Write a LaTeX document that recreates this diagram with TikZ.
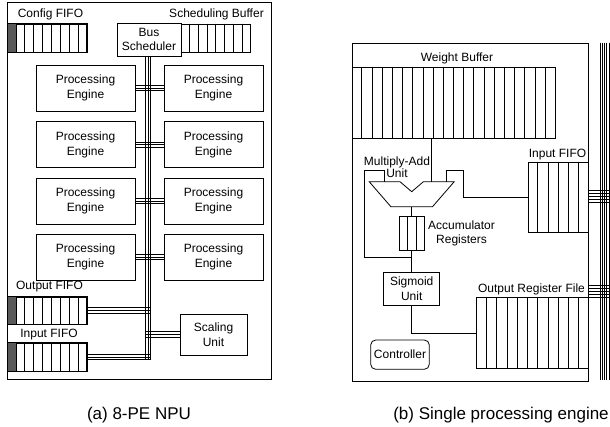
\documentclass[tikz,border=0pt]{standalone}
\usepackage{fontspec}
\setmainfont{Liberation Sans}
\usetikzlibrary{calc}
\definecolor{cellgray}{RGB}{90,90,90}
\newcommand\drawcells[3]{%
  \foreach \k in {1,...,#2}
    \draw ($(#1.north west)!\k/#3!(#1.north east)$) -- ($(#1.south west)!\k/#3!(#1.south east)$);}
\tikzset{
  every node/.style={font=\fontsize{12}{14.5}\selectfont},
  box/.style={draw, inner sep=0pt, align=center},
  pe/.style={box, minimum width=99pt, minimum height=46pt},
  lbl/.style={inner sep=0pt, align=center},
  captext/.style={inner sep=0pt, font=\fontsize{17}{20}\selectfont},
}
\begin{document}
\begin{tikzpicture}[x=1pt,y=-1pt,line width=0.8pt]
\useasboundingbox (0,0) rectangle (610,427);

% ---------------- (a) ----------------
\node[box, minimum width=263.5pt, minimum height=377pt] (frameA) at (139.25,190.5) {};

\node[lbl] (cfgl) at (50.5,14.5) {Config FIFO};
\node[box, minimum width=79.2pt, minimum height=28pt] (cfg) at (47.1,38) {};
\fill[cellgray] (cfg.north west) rectangle ($(cfg.south west)!1/9!(cfg.south east)$);
\drawcells{cfg}{8}{9}
\draw (cfg.north west) rectangle (cfg.south east);

\node[box, minimum width=64pt, minimum height=33pt] (bs) at (149,39.5) {Bus\\Scheduler};
\node[lbl] (sbl) at (216.5,14.5) {Scheduling Buffer};
\node[box, minimum width=69.7pt, minimum height=28pt] (sb) at (215.85,38) {};
\drawcells{sb}{7}{8}

\foreach \r/\y in {1/88,2/144.7,3/201,4/257}{
  \node[pe] (peL\r) at (85.5,\y) {Processing\\Engine};
  \node[pe] (peR\r) at (213.5,\y) {Processing\\Engine};
}

\node[lbl] (ofl) at (49.5,287) {Output FIFO};
\node[box, minimum width=79.2pt, minimum height=27pt] (ofa) at (47.1,310.5) {};
\fill[cellgray] (ofa.north west) rectangle ($(ofa.south west)!1/9!(ofa.south east)$);
\drawcells{ofa}{8}{9}
\draw (ofa.north west) rectangle (ofa.south east);

\node[lbl] (ifl) at (49,335) {Input FIFO};
\node[box, minimum width=79.2pt, minimum height=28pt] (ifa) at (47.1,357) {};
\fill[cellgray] (ifa.north west) rectangle ($(ifa.south west)!1/9!(ifa.south east)$);
\drawcells{ifa}{8}{9}
\draw (ifa.north west) rectangle (ifa.south east);

\node[box, minimum width=67pt, minimum height=41pt] (scal) at (213.5,334.5) {Scaling\\Unit};

% bus
\coordinate (busT) at (148,56);
\coordinate (busB) at (148,359.7);
\coordinate (busRt) at (150.7,0);
\coordinate (busLt) at (145.3,0);
\foreach \d in {-2.7,0,2.7}{
  \draw ([xshift=\d pt]busT) -- ([xshift=\d pt]busB);
  \foreach \r in {1,2,3,4}
    \draw ([yshift=\d pt]peL\r.east) -- ([yshift=\d pt]peR\r.west);
  \draw ([yshift=\d pt]ofa.east) -- ([yshift=\d pt]ofa.east -| busRt);
  \draw ([yshift=\d pt]ifa.east) -- ([yshift=\d pt]ifa.east -| busRt);
  \draw ([yshift=\d pt]scal.west -| busLt) -- ([yshift=\d pt]scal.west);
}

\node[captext] (capA) at (139,415) {(a) 8-PE NPU};

% ---------------- (b) ----------------
\node[box, minimum width=236.7pt, minimum height=338pt] (frameB) at (470.35,212) {};

\node[lbl] (wbl) at (457,58.3) {Weight Buffer};
\node[box, minimum width=203pt, minimum height=71pt] (wb) at (453.5,102.5) {};
\drawcells{wb}{19}{20}

\node[lbl] (ifbl) at (557.5,155) {Input FIFO};
\node[box, minimum width=60.7pt, minimum height=69.6pt] (ifb) at (558.35,197.5) {};
\drawcells{ifb}{5}{6}

% multiply-add unit
\coordinate (macTop) at (411.7,181.7);
\coordinate (macOut) at (411.7,206.7);
\draw (369.2,181.7) -- (400,181.7) -- (411.7,191.7) -- (423.4,181.7) -- (454.2,181.7)
      -- (432.5,206.7) -- (390.9,206.7) -- cycle;
\node[lbl, font=\fontsize{12}{11.6}\selectfont] (macl) at (397,167.3) {Multiply-Add\\Unit};

\node[box, minimum width=24.7pt, minimum height=33.3pt] (acc) at (411.7,233.35) {};
\drawcells{acc}{2}{3}
\node[lbl, font=\fontsize{12}{14}\selectfont] (accl) at (461.5,233) {Accumulator\\Registers};

\node[box, minimum width=55.7pt, minimum height=32.7pt] (sig) at (411.7,288.65) {Sigmoid\\Unit};

\node[lbl] (orfl) at (531.5,289) {Output Register File};
\node[box, minimum width=112pt, minimum height=70.6pt] (orf) at (532.7,333) {};
\drawcells{orf}{10}{11}

\node[box, rounded corners=5pt, minimum width=58.6pt, minimum height=29.3pt] (ctl) at (400,354.65) {Controller};

% connections inside engine
\draw (431.7,138) -- (431.7,181.7);
\draw (macOut) -- (acc.north);
\draw (acc.south) -- (sig.north);
\coordinate (loopJ) at (411.7,257);
\draw (384.7,181.7) -- (384.7,170.7) -- (364,170.7) -- (364,257) -- (loopJ);
\draw (446.7,181.7) -- (446.7,170.7) -- (463.3,170.7) -- (463.3,197.5) -- (ifb.west);
\draw (sig.south) |- (orf.west);

% right bus
\coordinate (rbT) at (604.5,42.7);
\coordinate (rbB) at (604.5,380);
\coordinate (rbR) at (609.1,0);
\coordinate (orfPort) at (588.7,291);
\coordinate (ifbPort) at (588.7,196.5);
\foreach \d in {-4.6,-2.3,0,2.3,4.6}
  \draw ([xshift=\d pt]rbT) -- ([xshift=\d pt]rbB);
\foreach \d in {-6,-3,0,3,6}{
  \draw ([yshift=\d pt]ifbPort) -- ([yshift=\d pt]ifbPort -| rbR);
  \draw ([yshift=\d pt]orfPort) -- ([yshift=\d pt]orfPort -| rbR);
}

\node[captext] (capB) at (501,415) {(b) Single processing engine};
\end{tikzpicture}
\end{document}
